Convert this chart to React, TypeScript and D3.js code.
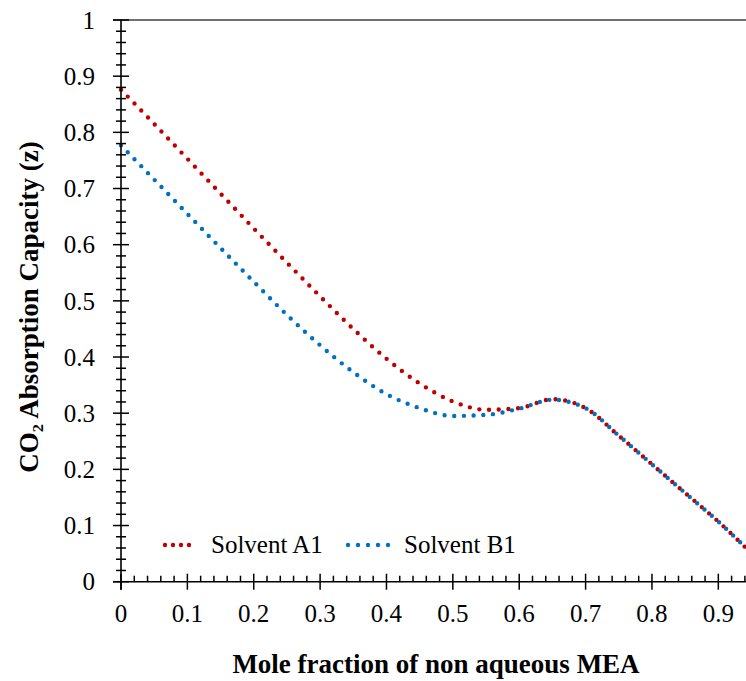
import React from "react";
import * as d3 from "d3";

const xMajorTicks = [0, 0.1, 0.2, 0.3, 0.4, 0.5, 0.6, 0.7, 0.8, 0.9];
const yMajorTicks = [0, 0.1, 0.2, 0.3, 0.4, 0.5, 0.6, 0.7, 0.8, 0.9, 1];

const xValuesA = [0, 0.05, 0.1, 0.15, 0.2, 0.25, 0.3, 0.35, 0.4, 0.45, 0.5, 0.55, 0.6, 0.65, 0.7, 0.75, 0.8, 0.85, 0.9, 0.94];
const solventA1 = [0.876, 0.815, 0.753, 0.691, 0.629, 0.568, 0.508, 0.45, 0.397, 0.353, 0.321, 0.306, 0.309, 0.325, 0.309, 0.26, 0.209, 0.158, 0.107, 0.062];
const xValuesB = [0, 0.05, 0.1, 0.15, 0.2, 0.25, 0.3, 0.35, 0.4, 0.45, 0.5, 0.55, 0.6, 0.65, 0.7, 0.75, 0.8, 0.85, 0.9, 0.94];
const solventB1 = [0.777, 0.716, 0.655, 0.594, 0.534, 0.475, 0.421, 0.373, 0.334, 0.309, 0.295, 0.297, 0.308, 0.324, 0.309, 0.26, 0.209, 0.158, 0.107, 0.062];

const seriesNames = ["Solvent A1", "Solvent B1"];
const seriesColors = ["#c00000", "#0070c0"];

const W = 746;
const H = 681;
const x0 = 121;
const yBottom = 581.7;
const yTop = 20;

function T(props: any) {
  const { children, style, ...rest } = props;
  return (
    <text {...rest} fontFamily="Liberation Serif" style={{ fontFamily: '"Liberation Serif"', ...(style || {}) }}>
      {children}
    </text>
  );
}

export default function App() {
  const x = d3.scaleLinear().domain([0, 1]).range([x0, x0 + 663.7]);
  const y = d3.scaleLinear().domain([0, 1]).range([yBottom, yTop]);
  const line = d3
    .line<[number, number]>()
    .x((d) => x(d[0]))
    .y((d) => y(d[1]))
    .curve(d3.curveMonotoneX);

  const dataA: [number, number][] = xValuesA.map((v, i) => [v, solventA1[i]]);
  const dataB: [number, number][] = xValuesB.map((v, i) => [v, solventB1[i]]);

  const minorX = d3.range(0, 0.95, 0.02).map((v) => +v.toFixed(2)).filter((v) => Math.abs(v * 10 - Math.round(v * 10)) > 1e-6);
  const minorY = d3.range(0, 1.0001, 0.02).map((v) => +v.toFixed(2)).filter((v) => Math.abs(v * 10 - Math.round(v * 10)) > 1e-6);

  const dotStyle = { strokeWidth: 4.4, strokeDasharray: "0 9.7", strokeLinecap: "round" as const, fill: "none" };

  return (
    <svg width={W} height={H} style={{ position: "absolute", left: 0, top: 0 }}>
      <rect x={0} y={0} width={W} height={H} fill="#fff" />
      <defs>
        <clipPath id="plotclip">
          <rect x={x0 - 5} y={0} width={W - x0 + 5} height={H} />
        </clipPath>
      </defs>
      <line x1={x0 - 8} x2={W} y1={y(1)} y2={y(1)} stroke="#404040" strokeWidth={1.6} />
      <g clipPath="url(#plotclip)">
        <path d={line(dataA) || ""} stroke={seriesColors[0]} {...dotStyle} />
        <path d={line(dataB) || ""} stroke={seriesColors[1]} {...dotStyle} />
      </g>
      <line x1={x0} x2={x0} y1={y(0) + 8} y2={y(1)} stroke="#000" strokeWidth={1.6} />
      {yMajorTicks.map((t) => (
        <g key={"ym" + t}>
          <line x1={x0 - 8} x2={x0 + 8} y1={y(t)} y2={y(t)} stroke="#000" strokeWidth={1.5} />
          <T x={95} y={y(t)} dy="0.35em" textAnchor="end" fontSize={25} fill="#000">
            {t === 0 || t === 1 ? String(t) : t.toFixed(1)}
          </T>
        </g>
      ))}
      {minorY.map((t) => (
        <line key={"yn" + t} x1={x0 - 5} x2={x0 + 5} y1={y(t)} y2={y(t)} stroke="#000" strokeWidth={1.5} />
      ))}
      <line x1={x0 - 8} x2={W} y1={y(0)} y2={y(0)} stroke="#000" strokeWidth={1.6} />
      {xMajorTicks.map((t) => (
        <g key={"xm" + t}>
          <line x1={x(t)} x2={x(t)} y1={y(0) - 8} y2={y(0) + 8} stroke="#000" strokeWidth={1.5} />
          <T x={x(t)} y={622} textAnchor="middle" fontSize={25} fill="#000">
            {t === 0 ? "0" : t.toFixed(1)}
          </T>
        </g>
      ))}
      {minorX.map((t) => (
        <line key={"xn" + t} x1={x(t)} x2={x(t)} y1={y(0) - 6} y2={y(0)} stroke="#000" strokeWidth={1.5} />
      ))}
      <line x1={165} x2={197} y1={545} y2={545} stroke={seriesColors[0]} {...dotStyle} strokeDasharray="0 8" />
      <T x={211} y={553} fontSize={25} fill="#000">{seriesNames[0]}</T>
      <line x1={348} x2={398} y1={545} y2={545} stroke={seriesColors[1]} {...dotStyle} strokeDasharray="0 10" />
      <T x={404} y={553} fontSize={25} fill="#000">{seriesNames[1]}</T>
      <T x={436} y={673} textAnchor="middle" fontSize={27} fontWeight="bold" fill="#000">
        Mole fraction of non aqueous MEA
      </T>
      <T transform={`translate(38,307) rotate(-90)`} textAnchor="middle" fontSize={27} fontWeight="bold" fill="#000">
        CO₂ Absorption Capacity (z)
      </T>
    </svg>
  );
}
